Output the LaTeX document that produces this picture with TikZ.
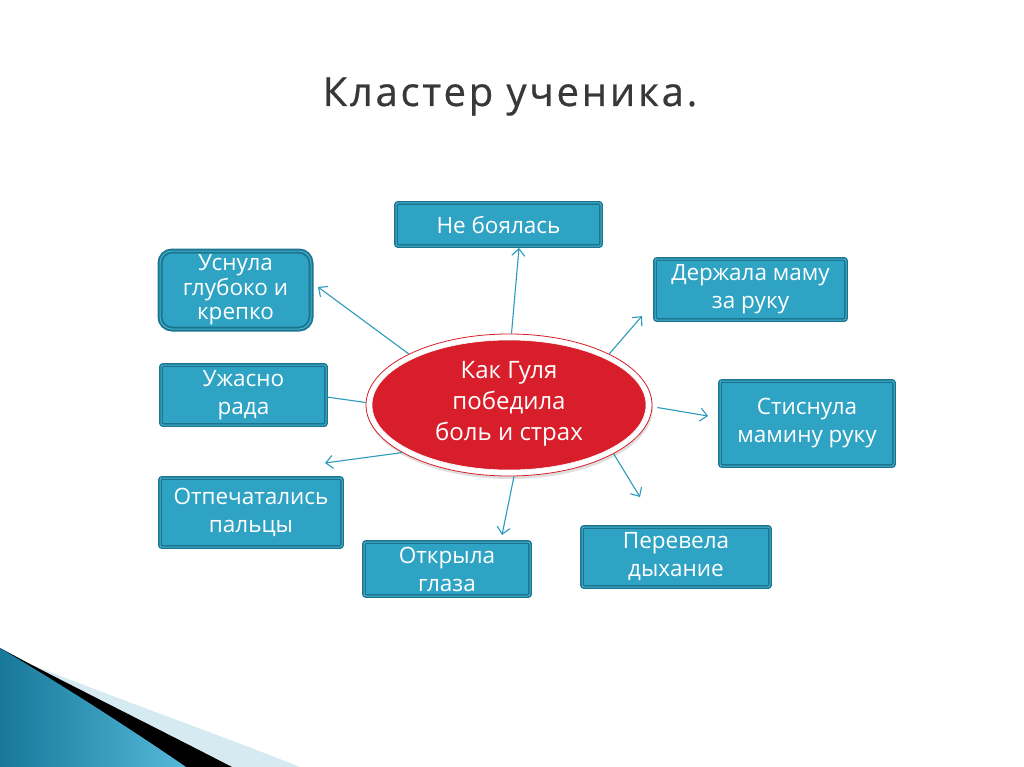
\documentclass[tikz,border=0pt]{standalone}
\usepackage{fontspec}
\setmainfont{Open Sans}
\newfontfamily\titlefont[LetterSpace=7,FakeBold=0.6]{Open Sans}
\usetikzlibrary{arrows.meta,shapes.geometric,shadows}
\definecolor{boxfill}{HTML}{2FA3C4}
\definecolor{boxdark}{HTML}{1C7590}
\definecolor{boxlight}{HTML}{45B3D0}
\definecolor{arrowc}{HTML}{2B9BBB}
\definecolor{redfill}{HTML}{D81E2A}
\definecolor{titlec}{HTML}{383838}
\definecolor{lightstripe}{HTML}{D6EAF1}
\definecolor{tealdark}{HTML}{17789A}
\definecolor{teallight}{HTML}{55B9D9}
\tikzset{
  box/.style={draw=boxdark, double=boxlight, double distance=1pt, line width=1.4pt,
    fill=boxfill, rounded corners=2pt, text=white, align=center,
    font=\fontsize{22.5}{28}\selectfont, inner sep=0pt},
  conn/.style={draw=arrowc, line width=1.1pt},
  arr/.style={conn, -{Straight Barb[length=7pt,width=13pt]}},
}
\begin{document}
\begin{tikzpicture}[x=1pt,y=-1pt]
\useasboundingbox (0,0) rectangle (1024,767);
\fill[white] (0,0) rectangle (1024,767);

% bottom-left decoration
\fill[lightstripe] (0,648) -- (30,664) .. controls (120,700) and (220,735) .. (300,767) -- (0,767) -- cycle;
\fill[black] (0,648) -- (30,664) .. controls (100,700) and (170,735) .. (232,767) -- (0,767) -- cycle;
\shade[left color=tealdark, right color=teallight] (0,648) .. controls (60,684) and (125,725) .. (186,767) -- (0,767) -- cycle;

% title
\node[font=\titlefont\fontsize{40}{44}\selectfont, text=titlec, anchor=base] (title) at (510,106) {Кластер ученика.};

% central ellipse
\node[ellipse, minimum width=286pt, minimum height=142pt, fill=white, draw=redfill,
  line width=0.8pt, drop shadow={opacity=0.25,shadow xshift=1pt,shadow yshift=-3pt}] (ell) at (509,405) {};
\node[ellipse, minimum width=274pt, minimum height=130pt, fill=redfill, draw=white,
  line width=0.6pt] (core) at (509,405) {};
\node[text=white, align=center, font=\fontsize{24}{31}\selectfont] (ctext) at (509,404)
  {Как Гуля\\победила\\боль и страх};

% boxes
\node[box, minimum width=205pt, minimum height=43pt] (nb) at (498.5,224.5) {Не боялась};
\node[box, minimum width=151pt, minimum height=78pt, rounded corners=12pt, line width=2pt,
  font=\fontsize{22.5}{24.5}\selectfont] (us) at (235.5,290) {Уснула\\глубоко и\\крепко};
\node[box, minimum width=191pt, minimum height=61pt] (dm) at (750.5,289.5) {Держала маму\\за руку};
\node[box, minimum width=165pt, minimum height=60pt] (ur) at (243.5,395) {Ужасно\\рада};
\node[box, minimum width=174pt, minimum height=85pt] (sm) at (807,423.5) {Стиснула\\мамину руку};
\node[box, minimum width=182pt, minimum height=69pt] (op) at (251,512.5) {Отпечатались\\пальцы};
\node[box, minimum width=166pt, minimum height=54pt] (og) at (447,569) {Открыла\\глаза};
\node[box, minimum width=188pt, minimum height=60pt] (pd) at (676,557) {Перевела\\дыхание};

% arrow tips (free ends)
\coordinate (t1) at (519,248);
\coordinate (t2) at (318,287);
\coordinate (t3) at (642,316);
\coordinate (t4) at (708,416);
\coordinate (t5) at (640,497);
\coordinate (t6) at (502,535);
\coordinate (t7) at (325,463);

\draw[arr] (ell.88) -- (t1);
\draw[arr] (ell.153) -- (t2);
\draw[arr] (ell.27) -- (t3);
\draw[arr] ([xshift=5pt]ell.-1) -- (t4);
\draw[arr] (ell.-25) -- (t5);
\draw[arr] (ell.-86) -- (t6);
\draw[arr] (ell.-156) -- (t7);
\draw[conn] ([yshift=-2pt]ur.east) -- (ell.179);
\end{tikzpicture}
\end{document}
